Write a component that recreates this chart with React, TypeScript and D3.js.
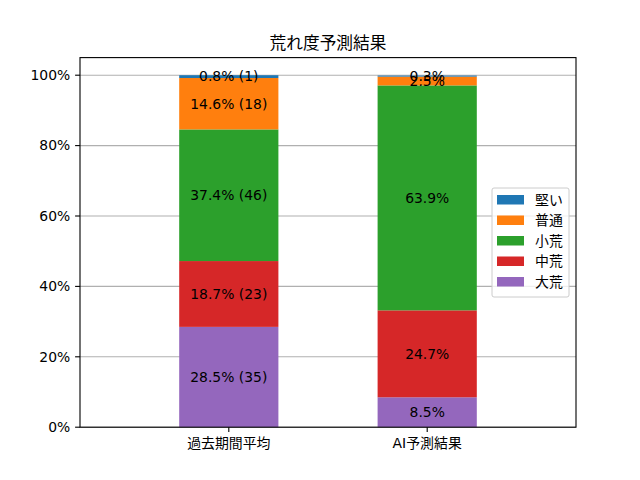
import React from 'react';
import * as d3 from 'd3';

const categories = ['過去期間平均', 'AI予測結果'];
// stack order from bottom to top
const levels = ['大荒', '中荒', '小荒', '普通', '堅い'];
const levelColors = ['#9467bd', '#d62728', '#2ca02c', '#ff7f0e', '#1f77b4'];
const pastValues = [28.5, 18.7, 37.4, 14.6, 0.8];
const pastCounts = [35, 23, 46, 18, 1];
const aiValues = [8.5, 24.7, 63.9, 2.5, 0.3];
const yTicks = [0, 20, 40, 60, 80, 100];

const width = 640;
const height = 480;
const margin = { top: 57.6, right: 64, bottom: 52.8, left: 80 };
const innerWidth = width - margin.left - margin.right;
const innerHeight = height - margin.top - margin.bottom;

const font = '"DejaVu Sans", "Noto Sans CJK JP", sans-serif';

const App: React.FC = () => {
  const x = d3.scaleLinear().domain([-0.75, 1.75]).range([0, innerWidth]);
  const y = d3.scaleLinear().domain([0, 105]).range([innerHeight, 0]);
  const barWidth = x(0.5) - x(0);

  const series = [pastValues, aiValues];
  const labelFor = (ci: number, li: number) =>
    ci === 0
      ? `${pastValues[li].toFixed(1)}% (${pastCounts[li]})`
      : `${aiValues[li].toFixed(1)}%`;

  return (
    <svg width={width} height={height} style={{ position: 'absolute', left: 0, top: 0, background: '#fff' }}>
      <text
        x={margin.left + innerWidth / 2}
        y={margin.top - 9}
        textAnchor="middle"
        fontFamily={font}
        fontSize={16.7}
      >
        荒れ度予測結果
      </text>
      <g transform={`translate(${margin.left},${margin.top})`}>
        {/* grid behind bars */}
        {yTicks.map(t => (
          <line key={t} x1={0} x2={innerWidth} y1={y(t)} y2={y(t)} stroke="#b0b0b0" strokeWidth={1.1} />
        ))}

        {series.map((vals, ci) => {
          let acc = 0;
          return (
            <g key={ci}>
              {vals.map((v, li) => {
                const y0 = acc;
                acc += v;
                return (
                  <rect
                    key={li}
                    x={x(ci) - barWidth / 2}
                    y={y(acc)}
                    width={barWidth}
                    height={y(y0) - y(acc)}
                    fill={levelColors[li]}
                  />
                );
              })}
            </g>
          );
        })}

        {series.map((vals, ci) => {
          let acc = 0;
          return (
            <g key={`l${ci}`}>
              {vals.map((v, li) => {
                const mid = acc + v / 2;
                acc += v;
                return (
                  <text
                    key={li}
                    x={x(ci)}
                    y={y(mid)}
                    dy="0.35em"
                    textAnchor="middle"
                    fontFamily={font}
                    fontSize={13.9}
                    fill="#000"
                  >
                    {labelFor(ci, li)}
                  </text>
                );
              })}
            </g>
          );
        })}

        {/* axes frame */}
        <rect x={0} y={0} width={innerWidth} height={innerHeight} fill="none" stroke="#000" strokeWidth={1.1} />

        {yTicks.map(t => (
          <g key={t} transform={`translate(0,${y(t)})`}>
            <line x1={-4.9} x2={0} stroke="#000" strokeWidth={1.1} />
            <text x={-9.8} dy="0.35em" textAnchor="end" fontFamily={font} fontSize={13.9}>
              {`${t}%`}
            </text>
          </g>
        ))}

        {categories.map((c, ci) => (
          <g key={c} transform={`translate(${x(ci)},${innerHeight})`}>
            <line y1={0} y2={4.9} stroke="#000" strokeWidth={1.1} />
            <text y={9.8} dy="0.8em" textAnchor="middle" fontFamily={font} fontSize={13.9}>
              {c}
            </text>
          </g>
        ))}

        {/* legend, reversed order */}
        <g transform={`translate(${492 - margin.left},${188 - margin.top})`}>
          <rect x={0} y={0} width={77} height={109} rx={2} fill="#fff" fillOpacity={0.8} stroke="#cccccc" />
          {levels
            .map((l, i) => ({ l, c: levelColors[i] }))
            .reverse()
            .map((d, i) => (
              <g key={d.l} transform={`translate(0,${12 + i * 20.5})`}>
                <rect x={5} y={-5} width={27} height={9.5} fill={d.c} />
                <text x={43} dy="0.35em" fontFamily={font} fontSize={13.9}>
                  {d.l}
                </text>
              </g>
            ))}
        </g>
      </g>
    </svg>
  );
};

export default App;
